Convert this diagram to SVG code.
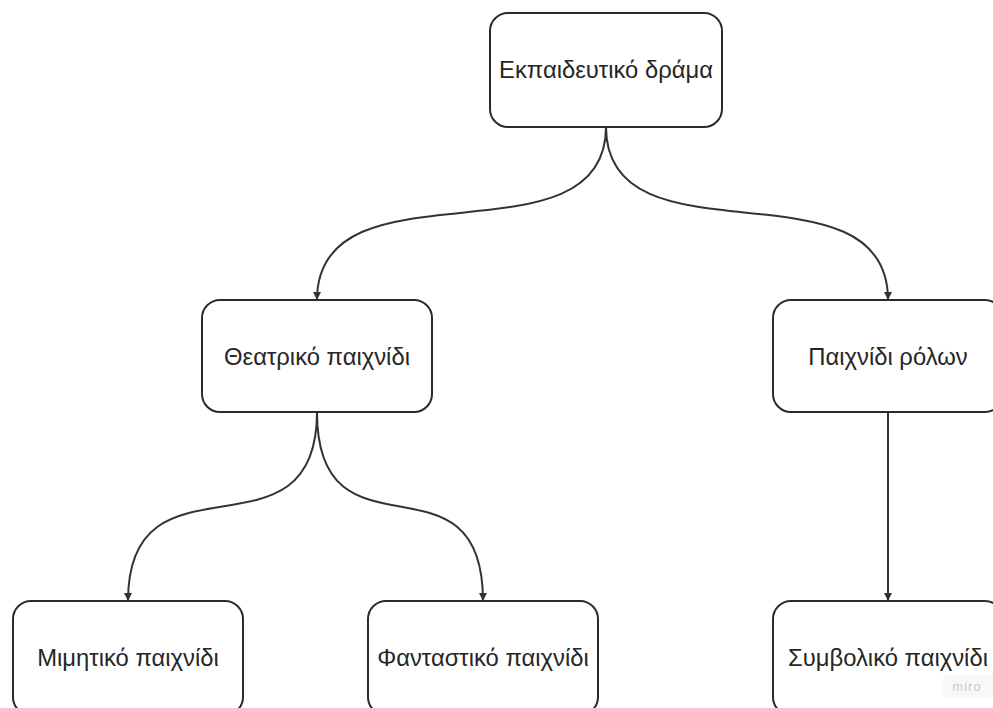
<svg xmlns="http://www.w3.org/2000/svg" width="993" height="708" viewBox="0 0 993 708">
<style>
.box{fill:#ffffff;stroke:#2b2b2b;stroke-width:2}
.lbl{font-family:"Liberation Sans",Arial,sans-serif;font-size:23.8px;fill:#262626;text-anchor:middle}
.edge{fill:none;stroke:#333333;stroke-width:2}
.wm{font-family:"Liberation Sans",Arial,sans-serif;font-size:13px;fill:#c8c8c8;text-anchor:middle;letter-spacing:1px}
</style>
<defs>
<marker id="ah" markerUnits="userSpaceOnUse" markerWidth="10" markerHeight="10" refX="9" refY="5" orient="auto">
<path d="M1,1 L9,5 L1,9 z" fill="#333333"/>
</marker>
</defs>
<rect width="993" height="708" fill="#ffffff"/>
<g id="connectors">
<path class="edge" marker-end="url(#ah)" d="M606,127 C606,270 317,155 317,300"/>
<path class="edge" marker-end="url(#ah)" d="M606,127 C606,270 888,155 888,300"/>
<path class="edge" marker-end="url(#ah)" d="M317,412 C317,571 128,442 128,601"/>
<path class="edge" marker-end="url(#ah)" d="M317,412 C317,571 483,442 483,601"/>
<path class="edge" marker-end="url(#ah)" d="M888,412 L888,601"/>
</g>
<g id="node-ekpaideutiko">
<rect class="box" x="490" y="13" width="232" height="114" rx="18"/>
<text class="lbl" x="606" y="78">Εκπαιδευτικό δράμα</text>
</g>
<g id="node-theatriko">
<rect class="box" x="202" y="300" width="230" height="112" rx="18"/>
<text class="lbl" x="317" y="365">Θεατρικό παιχνίδι</text>
</g>
<g id="node-rolon">
<rect class="box" x="773" y="300" width="230" height="112" rx="18"/>
<text class="lbl" x="888" y="365">Παιχνίδι ρόλων</text>
</g>
<g id="node-mimitiko">
<rect class="box" x="13" y="601" width="230" height="114" rx="18"/>
<text class="lbl" x="128" y="666">Μιμητικό παιχνίδι</text>
</g>
<g id="node-fantastiko">
<rect class="box" x="368" y="601" width="230" height="114" rx="18"/>
<text class="lbl" x="483" y="666">Φανταστικό παιχνίδι</text>
</g>
<g id="node-symvoliko">
<rect class="box" x="773" y="601" width="230" height="114" rx="18"/>
<text class="lbl" x="888" y="666">Συμβολικό παιχνίδι</text>
</g>
<g id="watermark">
<rect x="943" y="675" width="50" height="22" fill="#f8f8f8"/>
<text class="wm" x="967" y="691">miro</text>
</g>
</svg>
